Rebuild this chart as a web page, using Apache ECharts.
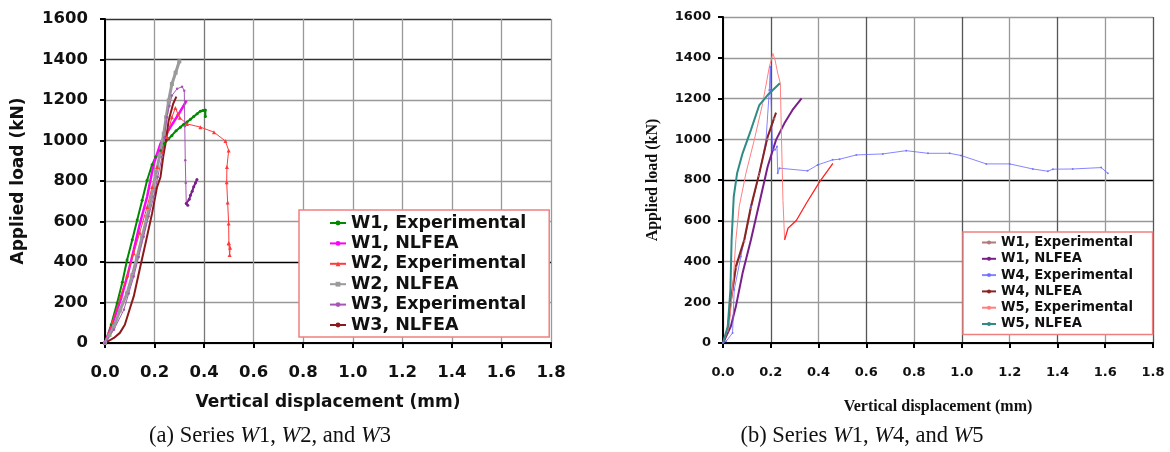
<!DOCTYPE html>
<html lang="en">
<head>
	<meta charset="UTF-8">
	<title>Load-displacement</title>
	<style>
	body, div {
		margin: 0;
		padding: 0;
		background: #fff;
	}
	#echart {
		width: 1170px;
		height: 452px;
	}
	</style>
</head>
<body>
	<div id="echart"></div>

	<script src="https://cdn.jsdelivr.net/npm/echarts@6/dist/echarts.min.js"></script>

	<script>
// ---- data, [displacement mm, load kN] ----
// chart (a)
var a_w1Exp = [[0,0],[0.025,90],[0.049,197],[0.07,300],[0.089,410],[0.11,510],[0.13,607],[0.15,705],[0.17,804],[0.19,880],[0.204,918],[0.224,951],[0.24,985],[0.257,1009],[0.27,1025],[0.287,1048],[0.304,1066],[0.318,1080],[0.331,1091],[0.345,1105],[0.358,1118],[0.372,1132],[0.385,1145],[0.395,1148],[0.405,1151],[0.405,1118]];
var a_w1Fea = [[0,0],[0.03,95],[0.063,213],[0.09,330],[0.116,459],[0.14,585],[0.17,722],[0.197,886],[0.224,984],[0.264,1066],[0.298,1132],[0.329,1197]];
var a_w2Exp = [[0,0],[0.03,105],[0.063,230],[0.09,335],[0.116,443],[0.14,545],[0.17,672],[0.19,770],[0.21,869],[0.23,945],[0.25,1017],[0.27,1115],[0.284,1161],[0.294,1132],[0.302,1112],[0.331,1082],[0.385,1066],[0.44,1041],[0.486,997],[0.499,951],[0.492,869],[0.491,794],[0.495,694],[0.499,590],[0.5,492],[0.503,435],[0.505,470],[0.499,492]];
var a_w2Fea = [[0,0],[0.018,40],[0.036,82],[0.06,160],[0.089,246],[0.11,335],[0.13,426],[0.15,525],[0.17,623],[0.187,720],[0.204,820],[0.22,925],[0.237,1033],[0.247,1115],[0.257,1197],[0.27,1279],[0.285,1335],[0.3,1391]];
var a_w3Exp = [[0,0],[0.036,66],[0.076,164],[0.096,245],[0.116,328],[0.136,425],[0.156,525],[0.176,625],[0.197,722],[0.213,820],[0.23,918],[0.24,1015],[0.25,1115],[0.26,1170],[0.27,1222],[0.291,1255],[0.311,1266],[0.32,1246],[0.322,1070],[0.324,902],[0.326,790],[0.328,689]];
var a_w3Tail = [[0.328,689],[0.334,680],[0.34,710],[0.345,730],[0.352,750],[0.358,771],[0.365,790],[0.371,807]];
var a_w3Fea = [[0,0],[0.036,25],[0.06,50],[0.08,90],[0.103,180],[0.116,230],[0.143,380],[0.165,500],[0.19,640],[0.21,770],[0.224,820],[0.235,920],[0.244,984],[0.257,1099],[0.275,1181],[0.288,1217]];
// chart (b)
var b_w1Exp = [[0,0],[0.02,60],[0.034,200],[0.056,370],[0.09,500],[0.118,660],[0.15,820],[0.185,1000],[0.215,1100]];
var b_w1Fea = [[0,0],[0.033,82],[0.054,180],[0.082,343],[0.117,507],[0.152,686],[0.187,866],[0.222,997],[0.257,1078],[0.291,1144],[0.329,1201]];
var b_w4Exp = [[0,0],[0.013,8],[0.04,49],[0.047,261],[0.075,425],[0.117,670],[0.152,833],[0.18,997],[0.194,1242],[0.198,1356],[0.2,1242],[0.208,948],[0.218,948],[0.226,964],[0.229,833],[0.236,858],[0.354,845],[0.396,874],[0.459,899],[0.488,902],[0.558,923],[0.669,928],[0.767,944],[0.858,931],[0.949,931],[0.997,920],[1.102,879],[1.2,879],[1.297,854],[1.36,843],[1.381,853],[1.464,854],[1.583,861],[1.611,833]];
var b_w4Fea = [[0,0],[0.02,65],[0.033,212],[0.054,376],[0.089,507],[0.117,670],[0.152,833],[0.187,1013],[0.222,1131]];
var b_w5Exp = [[0,0],[0.026,82],[0.04,261],[0.054,507],[0.068,670],[0.096,833],[0.131,997],[0.166,1176],[0.194,1356],[0.209,1421],[0.218,1389],[0.229,1324],[0.24,1275],[0.245,997],[0.251,700],[0.258,506]];
var b_w5Tail = [[0.258,506],[0.272,563],[0.307,601],[0.349,686],[0.405,792],[0.46,882]];
var b_w5Fea = [[0,0],[0.02,82],[0.031,261],[0.036,507],[0.045,719],[0.059,833],[0.082,931],[0.117,1046],[0.152,1168],[0.187,1217],[0.238,1275]];

var xTicks = ['0.0','0.2','0.4','0.6','0.8','1.0','1.2','1.4','1.6','1.8'];
var yTicks = ['0','200','400','600','800','1000','1200','1400','1600'];

var namesA = ['W1, Experimental','W1, NLFEA','W2, Experimental','W2, NLFEA','W3, Experimental','W3, NLFEA'];
var namesB = ['W1, Experimental','W1, NLFEA','W4, Experimental','W4, NLFEA','W5, Experimental','W5, NLFEA'];

var myEchart = echarts.init(document.getElementById('echart'));

var SANS = 'DejaVu Sans';
var SERIF = 'Liberation Serif';

function xAx(idx, big) {
	return {
		type: 'value', gridIndex: idx, min: 0, max: 1.8, interval: 0.2,
		name: 'Vertical displacement (mm)', nameLocation: 'middle',
		nameGap: big ? 51 : 56,
		nameTextStyle: big
			? { fontFamily: SANS, fontWeight: 'bold', fontSize: 17, color: '#111' }
			: { fontFamily: SERIF, fontWeight: 'bold', fontSize: 16, color: '#111' },
		axisLine: { lineStyle: { color: '#000', width: 2 } },
		axisTick: { show: true, length: 5, lineStyle: { color: '#000', width: 2 } },
		axisLabel: {
			margin: big ? 21 : 23,
			fontFamily: SANS, fontWeight: 'bold', fontSize: big ? 16.5 : 13, color: '#111',
			formatter: function (v) { return xTicks[Math.round(v / 0.2)]; }
		},
		splitLine: { show: true, lineStyle: { color: big
			? ['#999','#999','#777','#999','#999','#999','#999','#999','#999','#999']
			: ['#999','#555','#999','#555','#999','#555','#999','#555','#999','#555'], width: 1.3 } }
	};
}
function yAx(idx, big) {
	return {
		type: 'value', gridIndex: idx, min: 0, max: 1600, interval: 200,
		name: 'Applied load (kN)', nameLocation: 'middle',
		nameGap: big ? 78 : 62,
		nameTextStyle: big
			? { fontFamily: SANS, fontWeight: 'bold', fontSize: 17, color: '#111' }
			: { fontFamily: SERIF, fontWeight: 'bold', fontSize: 16, color: '#111' },
		axisLine: { show: true, lineStyle: { color: '#000', width: 2 } },
		axisTick: { show: true, length: 5, lineStyle: { color: '#000', width: 2 } },
		axisLabel: {
			margin: big ? 17 : 12,
			fontFamily: SANS, fontWeight: 'bold', fontSize: big ? 16.5 : 13, color: '#111',
			formatter: function (v) { return yTicks[Math.round(v / 200)]; }
		},
		splitLine: { show: true, lineStyle: { color: big
			? ['#999','#999','#000','#999','#999','#999','#999','#333','#333']
			: ['#999','#999','#999','#999','#000','#999','#999','#999','#999'], width: 1.3 } }
	};
}

function ser(name, data, color, width, sym, symSize, xi, op) {
	return {
		name: name, type: 'line', xAxisIndex: xi, yAxisIndex: xi,
		data: data, smooth: false,
		symbol: sym, symbolSize: symSize, showSymbol: sym !== 'none',
		itemStyle: { color: color, opacity: op || 1 },
		lineStyle: { color: color, width: width, opacity: op || 1 },
		emphasis: { disabled: true }
	};
}

var legendTextA = { fontFamily: SANS, fontWeight: 'bold', fontSize: 17.5, color: '#111' };
var legendTextB = { fontFamily: SANS, fontWeight: 'bold', fontSize: 13.2, color: '#111' };

option = {
	animation: false,
	grid: [
		{ left: 105, top: 19, width: 446, height: 324 },
		{ left: 723, top: 17, width: 430, height: 326 }
	],
	xAxis: [xAx(0, true), xAx(1, false)],
	yAxis: [yAx(0, true), yAx(1, false)],
	legend: [
		{
			data: namesA,
			orient: 'vertical', left: 299, top: 210,
			itemWidth: 16, itemHeight: 6, itemGap: 2.4,
			padding: [4, 23, 3, 30],
			borderColor: '#f08080', borderWidth: 1.5, backgroundColor: '#fff',
			textStyle: legendTextA,
			selectedMode: false
		},
		{
			data: namesB.map(function (n) { return n + ' '; }),
			orient: 'vertical', left: 963, top: 232,
			itemWidth: 14, itemHeight: 5, itemGap: 3.3,
			padding: [4, 15, 4, 18],
			borderColor: '#f08080', borderWidth: 1.5, backgroundColor: '#fff',
			textStyle: legendTextB,
			selectedMode: false
		}
	],
	series: [
		ser(namesA[0], a_w1Exp, '#008a00', 2, 'circle', 3, 0),
		ser(namesA[1], a_w1Fea, '#ff00ff', 2.5, 'none', 0, 0),
		ser(namesA[2], a_w2Exp, '#ff3a3a', 1, 'triangle', 4, 0),
		ser(namesA[3], a_w2Fea, '#9a9a9a', 3, 'rect', 4, 0),
		ser(namesA[4], a_w3Exp, '#a855b8', 1, 'circle', 2.5, 0),
		ser('W3 tail', a_w3Tail, '#7a1f8a', 2, 'circle', 3, 0),
		ser(namesA[5], a_w3Fea, '#8b1a1a', 2, 'none', 0, 0),

		ser(namesB[0] + ' ', b_w1Exp, '#b07a7a', 1, 'circle', 2, 1),
		ser(namesB[1] + ' ', b_w1Fea, '#7a1f8a', 2, 'none', 0, 1),
		ser(namesB[2] + ' ', b_w4Exp, '#6666ff', 1, 'circle', 2, 1, 0.8),
		ser(namesB[3] + ' ', b_w4Fea, '#8b2323', 2, 'none', 0, 1),
		ser(namesB[4] + ' ', b_w5Exp, '#ff8080', 1, 'none', 0, 1),
		ser('W5 tail', b_w5Tail, '#ff2020', 1.3, 'none', 0, 1),
		ser(namesB[5] + ' ', b_w5Fea, '#2e8b86', 2, 'none', 0, 1)
	],
	graphic: [
		{
			type: 'text', x: 270, y: 425,
			style: {
				text: '{a|(a) Series }{i|W}{a|1, }{i|W}{a|2, and }{i|W}{a|3}',
				align: 'center',
				rich: {
					a: { fontFamily: SERIF, fontSize: 22.5, fill: '#111' },
					i: { fontFamily: SERIF, fontStyle: 'italic', fontSize: 22.5, fill: '#111' }
				}
			}
		},
		{
			type: 'text', x: 862, y: 425,
			style: {
				text: '{a|(b) Series }{i|W}{a|1, }{i|W}{a|4, and }{i|W}{a|5}',
				align: 'center',
				rich: {
					a: { fontFamily: SERIF, fontSize: 22.5, fill: '#111' },
					i: { fontFamily: SERIF, fontStyle: 'italic', fontSize: 22.5, fill: '#111' }
				}
			}
		}
	]
};

myEchart.setOption(option);
	</script>
</body>
</html>
